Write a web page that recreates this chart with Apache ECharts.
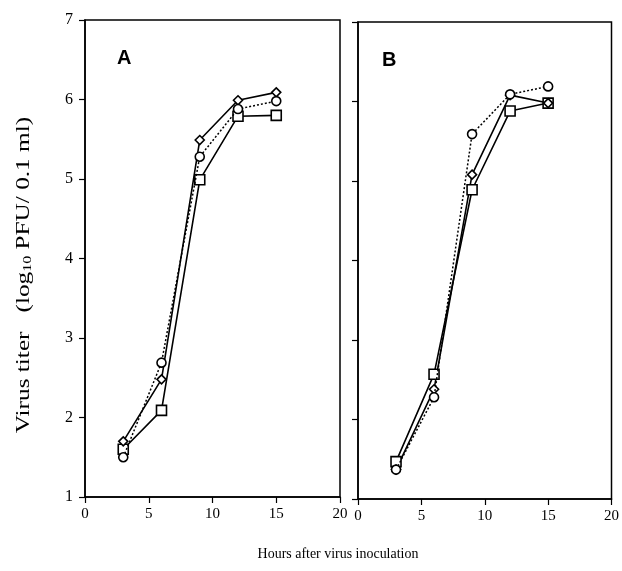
<!DOCTYPE html>
<html><head><meta charset="utf-8">
<script src="https://cdn.jsdelivr.net/npm/echarts@6/dist/echarts.min.js"></script>
<style>html,body{margin:0;padding:0;background:#fff}#c{width:622px;height:571px}</style>
</head><body><div id="c"></div>
<script>
const hours = [3, 6, 9, 12, 15];
const xTicks = [0, 5, 10, 15, 20];
const yTicks = [1, 2, 3, 4, 5, 6, 7];
// Panel A
const aDiamond = [1.70, 2.48, 5.49, 5.99, 6.09];
const aCircle  = [1.50, 2.69, 5.28, 5.88, 5.98];
const aSquare  = [1.60, 2.09, 4.99, 5.79, 5.80];
// Panel B
const bDiamond = [1.37, 2.38, 5.08, 6.08, 5.98];
const bCircle  = [1.37, 2.28, 5.59, 6.09, 6.19];
const bSquare  = [1.47, 2.57, 4.89, 5.88, 5.98];
const panelLabels = ['A', 'B'];

const serif = '"Liberation Serif", "DejaVu Serif", serif';
const pairs = a => hours.map((h, i) => [h, a[i]]);

function xAxis(idx) {
  return {
    gridIndex: idx, type: 'value', min: xTicks[0], max: xTicks[xTicks.length - 1], interval: 5,
    axisLine: { show: true, lineStyle: { color: '#000', width: 1.5 } },
    axisTick: { show: true, inside: false, length: 6, lineStyle: { color: '#000', width: 1.2 } },
    axisLabel: { show: true, color: '#000', fontFamily: serif, fontSize: 15, margin: 10 },
    splitLine: { show: false }
  };
}
function yAxis(idx, showLabels) {
  return {
    gridIndex: idx, type: 'value', min: yTicks[0], max: yTicks[yTicks.length - 1], interval: 1,
    axisLine: { show: true, lineStyle: { color: '#000', width: 1.5 } },
    axisTick: { show: true, inside: false, length: 6, lineStyle: { color: '#000', width: 1.2 } },
    axisLabel: { show: showLabels, color: '#000', fontFamily: serif, fontSize: 16, margin: 12 },
    splitLine: { show: false }
  };
}
function series(idx, data, symbol, size, dotted) {
  return {
    type: 'line', xAxisIndex: idx, yAxisIndex: idx, data: pairs(data),
    symbol: symbol, symbolSize: size, showSymbol: true,
    lineStyle: { color: '#000', width: dotted ? 1.5 : 1.6, type: dotted ? [2, 2] : 'solid' },
    itemStyle: { color: '#fff', borderColor: '#000', borderWidth: 1.6 },
    emphasis: { disabled: true }, animation: false, z: dotted ? 3 : 2
  };
}

const chart = echarts.init(document.getElementById('c'), null, { renderer: 'canvas' });
chart.setOption({
  backgroundColor: '#fff',
  animation: false,
  grid: [
    { left: 85, right: 282, top: 20, bottom: 74, show: true, borderColor: '#000', borderWidth: 1.5, backgroundColor: 'transparent' },
    { left: 358, right: 9, top: 22, bottom: 72, show: true, borderColor: '#000', borderWidth: 1.5, backgroundColor: 'transparent' }
  ],
  xAxis: [xAxis(0), xAxis(1)],
  yAxis: [yAxis(0, true), yAxis(1, false)],
  series: [
    series(0, aSquare, 'rect', 10, false),
    series(0, aDiamond, 'diamond', 9, false),
    series(0, aCircle, 'circle', 9, true),
    series(1, bSquare, 'rect', 10, false),
    series(1, bDiamond, 'diamond', 9, false),
    series(1, bCircle, 'circle', 9, true)
  ],
  graphic: [
    { type: 'text', left: 117, top: 48, style: { text: panelLabels[0], font: 'bold 20px "Liberation Sans", Arial, sans-serif', fill: '#000' } },
    { type: 'text', left: 382, top: 50, style: { text: panelLabels[1], font: 'bold 20px "Liberation Sans", Arial, sans-serif', fill: '#000' } },
    { type: 'text', x: 338, y: 554, scaleX: 0.93, style: { text: 'Hours after virus inoculation', font: '15px ' + serif, fill: '#000', align: 'center', verticalAlign: 'middle' } },
    { type: 'text', x: 24, y: 275, rotation: Math.PI / 2, scaleX: 1.33,
      style: {
        text: '{a|Virus titer   (log}{s|10}{a| PFU/ 0.1 ml)}', align: 'center', verticalAlign: 'middle', fill: '#000',
        rich: {
          a: { fontFamily: serif, fontSize: 19, fill: '#000' },
          s: { fontFamily: serif, fontSize: 12, fill: '#000', padding: [7, 0, 0, 0] }
        }
      } }
  ]
});
</script></body></html>
